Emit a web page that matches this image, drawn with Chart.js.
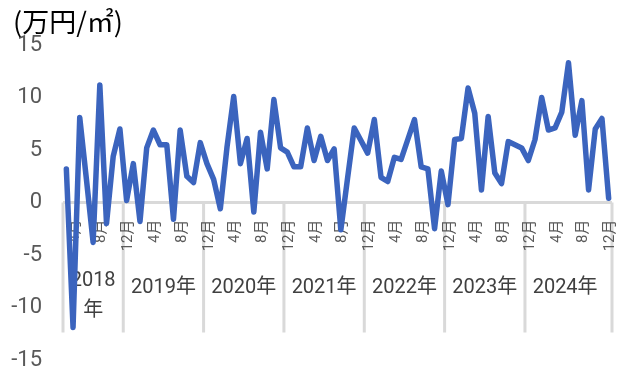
<!DOCTYPE html>
<html>
<head>
<meta charset="utf-8">
<script src="https://cdn.jsdelivr.net/npm/chart.js@4.4.1/dist/chart.umd.min.js"></script>
<style>
html,body{margin:0;padding:0;background:#fff;}
#wrap{width:631px;height:382px;position:relative;}
</style>
</head>
<body>
<div id="wrap"><canvas id="c" width="631" height="382"></canvas></div>
<script>
// ---- data (monthly, from Apr 2018) ----
const startYear = 2018;
const startMonth = 4;
const values2018 = [3.2, -11.9, 8.1, 2.2, -3.8, 11.2, -2.0, 4.4, 7.0];
const values2019 = [0.2, 3.7, -1.8, 5.2, 6.9, 5.5, 5.5, -1.6, 6.9, 2.5, 1.9, 5.7];
const values2020 = [3.7, 2.2, -0.6, 5.3, 10.1, 3.7, 6.1, -0.9, 6.7, 3.2, 9.8, 5.2];
const values2021 = [4.8, 3.4, 3.4, 7.1, 4.0, 6.3, 4.0, 5.1, -2.6, 2.3, 7.1, 5.9];
const values2022 = [4.7, 7.9, 2.4, 2.0, 4.3, 4.1, 6.0, 7.9, 3.4, 3.2, -2.5, 3.0];
const values2023 = [-0.2, 6.0, 6.1, 10.9, 8.5, 1.2, 8.2, 2.8, 1.8, 5.8, 5.5, 5.2];
const values2024 = [4.0, 6.0, 10.0, 6.9, 7.1, 8.6, 13.3, 6.4, 9.7, 1.2, 7.0, 8.0];
const values2025 = [0.4];
const yTicks = [-15, -10, -5, 0, 5, 10, 15];
const shownMonths = [4, 8, 12];
const monthSuffix = '月';
const yearSuffix = '年';
const unitLabel = '(万円/㎡)';

const values = [].concat(values2018, values2019, values2020, values2021, values2022, values2023, values2024, values2025);
const categories = values.map((_, i) => {
  const m0 = startMonth - 1 + i;
  return { year: startYear + Math.floor(m0 / 12), month: (m0 % 12) + 1 };
});
const labels = categories.map(c => c.year + '/' + c.month);

const GRAY = '#d9d9d9';
const FONT = "Roboto, 'Noto Sans CJK JP', sans-serif";

const axisPlugin = {
  id: 'multiAxis',
  beforeDatasetsDraw(chart) {
    const ctx = chart.ctx;
    const xs = chart.scales.x, ys = chart.scales.y;
    const area = chart.chartArea;
    const y0 = ys.getPixelForValue(0);
    const w = xs.getPixelForValue(1) - xs.getPixelForValue(0);
    ctx.save();
    // axis line
    ctx.strokeStyle = GRAY;
    ctx.lineWidth = 3;
    ctx.beginPath();
    ctx.moveTo(area.left, y0);
    ctx.lineTo(area.right, y0);
    ctx.stroke();
    // year groups (a trailing single-month group is merged into the previous one)
    const groups = [];
    categories.forEach((c, i) => {
      if (i === 0 || c.month === 1) groups.push({ year: c.year, start: i, end: i });
      groups[groups.length - 1].end = i;
    });
    const last = groups[groups.length - 1];
    if (groups.length > 1 && last.end === last.start) {
      groups.pop();
      groups[groups.length - 1].end = last.end;
      groups[groups.length - 1].labelEnd = last.start - 1;
    }
    const sepBottom = y0 + 130;
    ctx.beginPath();
    groups.forEach(g => {
      const xL = xs.getPixelForValue(g.start) - w / 2;
      ctx.moveTo(xL, y0); ctx.lineTo(xL, sepBottom);
    });
    const xEnd = xs.getPixelForValue(values.length - 1) + w / 2;
    ctx.moveTo(xEnd, y0); ctx.lineTo(xEnd, sepBottom);
    ctx.stroke();
    // month labels (rotated)
    ctx.fillStyle = '#595959';
    ctx.font = '15px ' + FONT;
    categories.forEach((c, i) => {
      if (i % 4 !== 0 || !shownMonths.includes(c.month)) return;
      const x = xs.getPixelForValue(i) + 8.5;
      ctx.save();
      ctx.translate(x, y0 + 17);
      ctx.rotate(-Math.PI / 2);
      ctx.textAlign = 'right';
      ctx.textBaseline = 'middle';
      ctx.fillText(c.month + monthSuffix, 0, 0);
      ctx.restore();
    });
    // year labels
    ctx.fillStyle = '#404040';
    ctx.font = '20px ' + FONT;
    ctx.textAlign = 'center';
    ctx.textBaseline = 'middle';
    groups.forEach(g => {
      const xL = xs.getPixelForValue(g.start) - w / 2;
      const endIdx = g.labelEnd !== undefined ? g.labelEnd : g.end;
      const xR = xs.getPixelForValue(endIdx) + w / 2;
      const cx = (xL + xR) / 2;
      const txt = g.year + yearSuffix;
      if (ctx.measureText(txt).width > (xR - xL) - 6) {
        ctx.fillText(String(g.year), cx, y0 + 78);
        ctx.fillText(yearSuffix, cx, y0 + 108);
      } else {
        ctx.fillText(txt, cx, y0 + 85);
      }
    });
    ctx.restore();
  },
  afterDraw(chart) {
    const ctx = chart.ctx;
    ctx.save();
    ctx.fillStyle = '#000';
    ctx.font = "27px 'Noto Sans CJK JP', sans-serif";
    ctx.textAlign = 'left';
    ctx.textBaseline = 'middle';
    ctx.fillText(unitLabel, 13, 22);
    ctx.restore();
  }
};

new Chart(document.getElementById('c'), {
  type: 'line',
  data: {
    labels: labels,
    datasets: [{
      data: values,
      borderColor: '#3b64be',
      borderWidth: 5.5,
      pointRadius: 0,
      pointHoverRadius: 0,
      tension: 0,
      fill: false,
      borderJoinStyle: 'round',
      borderCapStyle: 'round'
    }]
  },
  options: {
    responsive: false,
    animation: false,
    devicePixelRatio: 1,
    layout: { padding: { top: 45, bottom: 22, left: 0, right: 19 } },
    plugins: { legend: { display: false }, tooltip: { enabled: false }, title: { display: false } },
    scales: {
      x: { type: 'category', display: false, offset: true },
      y: {
        min: yTicks[0],
        max: yTicks[yTicks.length - 1],
        afterBuildTicks(scale) { scale.ticks = yTicks.map(v => ({ value: v })); },
        afterFit(scale) { scale.width = 63; },
        ticks: { color: '#595959', font: { family: FONT, size: 22 }, padding: 0 },
        grid: { display: false, drawTicks: true, tickLength: 21 },
        border: { display: false }
      }
    }
  },
  plugins: [axisPlugin]
});
</script>
</body>
</html>
